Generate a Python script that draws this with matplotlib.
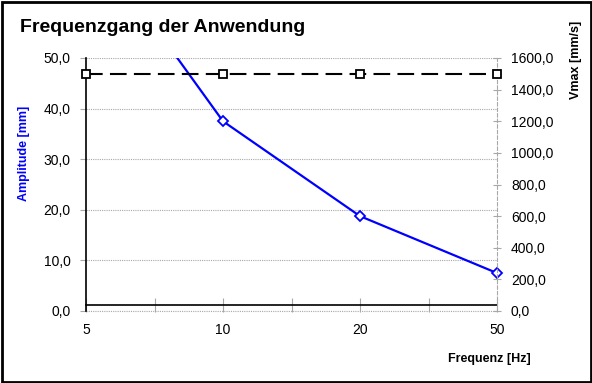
import matplotlib
matplotlib.use("Agg")
import matplotlib.pyplot as plt
import numpy as np
from matplotlib.patches import Rectangle

plt.rcParams['font.family'] = ['Liberation Sans', 'DejaVu Sans']

# Frequency categories and measured curves
frequencies = ["5", "10", "20", "50"]
amplitude_mm = [75.0, 37.5, 18.75, 7.5]
vmax_mm_s = [1500.0, 1500.0, 1500.0, 1500.0]

amp_ticks = [0, 10, 20, 30, 40, 50]
vmax_ticks = [0, 200, 400, 600, 800, 1000, 1200, 1400, 1600]

W, H = 592, 383
fig = plt.figure(figsize=(W / 100, H / 100), dpi=100)
fig.patch.set_facecolor("white")

# outer frame
fig.add_artist(Rectangle((1.5 / W, 1.5 / H), 1 - 3 / W, 1 - 3 / H,
                         transform=fig.transFigure, fill=False,
                         edgecolor="black", linewidth=2.0))

left, right, top, bottom = 86, 497, 58, 311
ax = fig.add_axes([left / W, 1 - bottom / H, (right - left) / W, (bottom - top) / H])
ax2 = ax.twinx()

x = np.arange(len(frequencies))
ax.set_xlim(0, len(frequencies) - 1)
ax.set_ylim(0, 50)
ax2.set_ylim(0, 1600)

# horizontal dotted grid for the amplitude axis
ax.set_yticks(amp_ticks)
ax.set_yticklabels([f"{v:.1f}".replace(".", ",") for v in amp_ticks], fontsize=10)
ax.yaxis.grid(True, color="#a8a8a8", linestyle=(0, (1, 1)), linewidth=0.8)
ax.tick_params(axis="y", direction="out", length=4, color="#a8a8a8", pad=7)

ax2.set_yticks(vmax_ticks)
ax2.set_yticklabels([f"{v:.1f}".replace(".", ",") for v in vmax_ticks], fontsize=10)
ax2.tick_params(axis="y", direction="inout", length=6, color="#a8a8a8",
                width=0.8, pad=7)

# category axis: major ticks at the categories, minor between them
ax.set_xticks(x)
ax.set_xticklabels(frequencies, fontsize=10)
ax.set_xticks(x[:-1] + 0.5, minor=True)
ax.tick_params(axis="x", which="both", direction="inout", length=10,
               color="#a8a8a8", width=0.8, pad=8)

for s in ["top", "right"]:
    ax.spines[s].set_visible(False)
    ax2.spines[s].set_visible(False)
ax2.spines["left"].set_visible(False)
ax2.spines["bottom"].set_visible(False)
ax.spines["left"].set_color("black")
ax.spines["left"].set_linewidth(1.2)
ax.spines["bottom"].set_position(("data", 1.2))
ax.spines["bottom"].set_linewidth(1.2)
ax.spines["bottom"].set_color("black")
ax2.spines["right"].set_visible(True)
ax2.spines["right"].set_color("#a8a8a8")
ax2.spines["right"].set_linestyle((0, (3, 2)))
ax2.spines["right"].set_linewidth(0.8)

# zero gridline below the category axis
ax.axhline(0, color="#a8a8a8", linestyle=(0, (1, 1)), linewidth=0.8, clip_on=False)

# amplitude curve (clipped at the top of the axis)
ax.plot(x, amplitude_mm, color="#0000ff", linewidth=1.6, zorder=4)
amp = np.array(amplitude_mm)
inside = amp <= 50
ax.plot(x[inside], amp[inside], linestyle="none", marker="D", markersize=5,
        markerfacecolor="white", markeredgecolor="#0000ff", markeredgewidth=1.3,
        clip_on=False, zorder=5)

# maximum velocity curve
ax2.plot(x, vmax_mm_s, color="black", linewidth=1.5, dashes=(8, 3.5),
         marker="s", markersize=6, markerfacecolor="white",
         markeredgecolor="black", markeredgewidth=1.3, clip_on=False, zorder=5)

fig.text(20 / W, 1 - 28 / H, "Frequenzgang der Anwendung", fontsize=14,
         fontweight="bold", ha="left", va="center")
fig.text(24 / W, 1 - 153 / H, "Amplitude [mm]", fontsize=9, fontweight="bold",
         color="#0000ff", rotation=90, ha="center", va="center")
fig.text(576 / W, 1 - 60 / H, "Vmax [mm/s]", fontsize=9, fontweight="bold",
         rotation=90, ha="center", va="center")
fig.text(489 / W, 1 - 359 / H, "Frequenz [Hz]", fontsize=9, fontweight="bold",
         ha="center", va="center")

fig.savefig("out.png", dpi=100, facecolor="white")
